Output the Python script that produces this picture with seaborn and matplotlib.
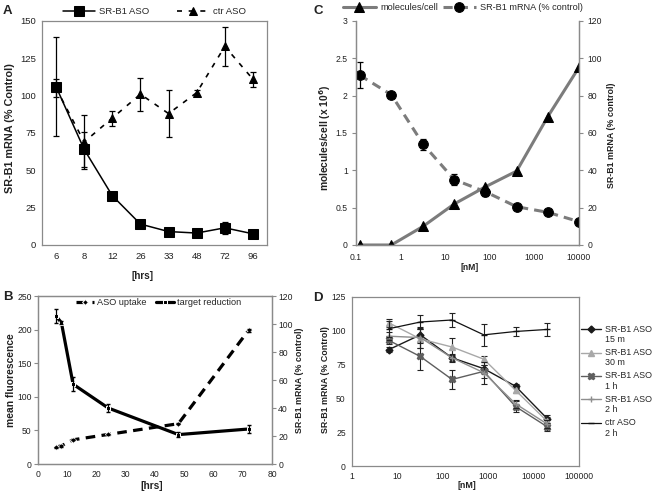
import numpy as np
import pandas as pd
import matplotlib
matplotlib.use("Agg")
import matplotlib.pyplot as plt
import seaborn as sns
from matplotlib.ticker import FixedLocator, NullFormatter, LogLocator, NullLocator
from matplotlib.legend_handler import HandlerLine2D

# ---------------- data ----------------
# Panel A
a_hours = ["6", "8", "12", "26", "33", "48", "72", "96"]
a_srb1 = [106, 64, 33, 14, 9, 8, 11.5, 7.5]
a_srb1_err = [33, 12, 2, 1, 1, 1, 4, 1]
a_ctr = [105, 69, 85, 101, 88, 102, 133, 111]
a_ctr_err = [6, 18, 5, 11, 16, 2, 13, 5]

# Panel B
b_hours = [6, 8, 12, 24, 48, 72]
b_uptake = [25, 27, 36, 44, 60, 199]
b_uptake_err = [1, 1, 1, 1, 1, 2]
b_target = [106, 101, 57, 40, 21, 25]
b_target_err = [5, 1, 5, 3, 2, 3]

# Panel C
c_nm = [0.12, 0.62, 3.2, 16, 80, 400, 2000, 10000]
c_molecules = [0, 0, 0.25, 0.55, 0.78, 0.99, 1.72, 2.38]
c_mrna = [91, 80.5, 54, 35, 28.5, 20.5, 17.5, 12.5]
c_mrna_err = [7, 1, 3, 3, 2, 1, 1, 1]
c_xticklabels = ["0.1", "1", "10", "100", "1000", "10000"]

# Panel D
d_nm = [6.4, 32, 160, 800, 4000, 20000]
d_labels = ["SR-B1 ASO\n15 m", "SR-B1 ASO\n30 m", "SR-B1 ASO\n1 h", "SR-B1 ASO\n2 h", "ctr ASO\n2 h"]
d_15m = [86, 97, 80, 72, 59, 35]
d_15m_err = [2, 5, 2, 3, 1.5, 3]
d_30m = [106, 94, 88, 79, 56, 33]
d_30m_err = [3, 7, 7, 2, 2, 3]
d_1h = [93, 81, 64, 70, 44, 29]
d_1h_err = [3, 10, 7, 5, 4, 3]
d_2h = [96, 95, 80, 69, 46, 31]
d_2h_err = [3, 8, 3, 8, 3, 3]
d_ctr = [101.5, 106.5, 108, 97, 99.5, 101]
d_ctr_err = [6, 5.5, 5.5, 8, 3, 5]
d_xticklabels = ["1", "10", "100", "1000", "10000", "100000"]

# ---------------- style ----------------
sns.set_style("white")
plt.rcParams["font.family"] = ["Liberation Sans", "DejaVu Sans"]
plt.rcParams["font.size"] = 7
SP = "#8a8a8a"
TXT = "#222222"

W, H = 657, 493
fig = plt.figure(figsize=(W / 100, H / 100), dpi=100)


def box(l, r, t, b):
    return [l / W, (H - b) / H, (r - l) / W, (b - t) / H]


def style_ax(ax, top=True, right=True, ls=6.2, pad=2):
    for s in ["left", "bottom", "top", "right"]:
        ax.spines[s].set_color(SP)
        ax.spines[s].set_linewidth(0.9)
    ax.spines["top"].set_visible(top)
    ax.spines["right"].set_visible(right)
    ax.tick_params(axis="both", direction="out", length=3, width=0.8, color=SP,
                   labelsize=ls, labelcolor=TXT, pad=pad)


def flabel(x, y, s, size, rot=0):
    fig.text(x / W, 1 - y / H, s, fontsize=size, fontweight="bold", color=TXT,
             ha="center", va="center", rotation=rot)


class FirstLineHandler(HandlerLine2D):
    def create_artists(self, legend, orig_handle, xdescent, ydescent, width, height,
                       fontsize, trans):
        arts = super().create_artists(legend, orig_handle, xdescent, ydescent, width,
                                      height, fontsize, trans)
        for a in arts:
            a.set_ydata(np.asarray(a.get_ydata()) + 0.6 * fontsize)
        return arts


# ---------------- Panel A ----------------
axA = fig.add_axes(box(42, 267, 21, 245))
style_ax(axA, ls=6.8, pad=1.5)
pos = np.arange(len(a_hours))
dfA = pd.DataFrame({"pos": pos, "srb1": a_srb1, "ctr": a_ctr})
sns.lineplot(data=dfA, x="pos", y="ctr", ax=axA, color="black", linestyle=(0, (3, 4)),
             linewidth=1.2, marker="^", markersize=5.5, markeredgecolor="black",
             label="ctr ASO", zorder=3)
sns.lineplot(data=dfA, x="pos", y="srb1", ax=axA, color="black", linewidth=1.1,
             marker="s", markersize=6.5, markeredgecolor="black", label="SR-B1 ASO", zorder=4)
axA.errorbar(pos, a_srb1, yerr=a_srb1_err, fmt="none", ecolor="black", elinewidth=0.9,
             capsize=2.5, capthick=0.9, zorder=2)
axA.errorbar(pos, a_ctr, yerr=a_ctr_err, fmt="none", ecolor="black", elinewidth=0.9,
             capsize=2.5, capthick=0.9, zorder=2)
axA.set_xlim(-0.5, len(a_hours) - 0.5)
axA.set_ylim(0, 150)
axA.set_yticks(np.arange(0, 151, 25))
axA.xaxis.set_major_locator(FixedLocator(np.arange(-0.5, len(a_hours), 1.0)))
axA.xaxis.set_major_formatter(NullFormatter())
axA.set_xticks(pos, minor=True)
axA.set_xticklabels(a_hours, minor=True)
axA.tick_params(axis="x", which="minor", length=0, labelsize=6.8, labelcolor=TXT, pad=5)
axA.set_xlabel("")
axA.set_ylabel("")
flabel(143, 276, "[hrs]", 7.2)
flabel(10, 128, "SR-B1 mRNA (% Control)", 7.8, rot=90)
h, l = axA.get_legend_handles_labels()
axA.legend(h[::-1], l[::-1], loc="lower center", bbox_to_anchor=(0.5, 1.0), ncol=2,
           frameon=False, fontsize=6.8, handlelength=3.4, columnspacing=3.0,
           borderaxespad=0.1, handletextpad=0.4)

# ---------------- Panel C ----------------
axC = fig.add_axes(box(356, 579, 21, 245))
style_ax(axC, top=False, right=True, pad=3)
axC2 = axC.twinx()
style_ax(axC2, top=False, right=True, pad=3)
dfC = pd.DataFrame({"nm": c_nm, "mol": c_molecules, "mrna": c_mrna})
GR = "#7c7c7c"
sns.lineplot(data=dfC, x="nm", y="mol", ax=axC, color=GR, linewidth=2.2, marker="^",
             markersize=7, markerfacecolor="black", markeredgecolor="black",
             label="molecules/cell", legend=False)
axC2.errorbar(c_nm, c_mrna, yerr=c_mrna_err, fmt="none", ecolor="black", elinewidth=0.9,
              capsize=2.5, capthick=0.9)
sns.lineplot(data=dfC, x="nm", y="mrna", ax=axC2, color=GR, linewidth=2.2,
             linestyle=(0, (3, 2)), marker="o", markersize=7, markerfacecolor="black",
             markeredgecolor="black", label="SR-B1 mRNA (% control)", legend=False)
axC.set_xscale("log")
axC.set_xlim(0.1, 10000)
axC.set_ylim(0, 3)
axC.set_yticks(np.arange(0, 3.01, 0.5))
axC.set_yticklabels(["0", "0.5", "1", "1.5", "2", "2.5", "3"])
axC2.set_ylim(0, 120)
axC2.set_yticks(np.arange(0, 121, 20))
axC.xaxis.set_major_locator(FixedLocator([0.1, 1, 10, 100, 1000, 10000]))
axC.set_xticklabels(c_xticklabels)
axC.xaxis.set_minor_locator(NullLocator())
axC.set_xlabel("")
axC.set_ylabel("")
axC2.set_ylabel("")
flabel(470, 267, "[nM]", 6.2)
flabel(325, 138, "molecules/cell (x 10$^{\\mathbf{6}}$)", 7.4, rot=90)
flabel(612, 135, "SR-B1 mRNA (% control)", 6.4, rot=90)
hc = axC.get_lines()[:1] + [axC2.get_lines()[-1]]
fig.legend(hc, ["molecules/cell", "SR-B1 mRNA (% control)"], loc="center",
           bbox_to_anchor=((338 + 588) / 2 / W, 1 - 8 / H), ncol=2, frameon=False,
           fontsize=6.6, handlelength=3.6, columnspacing=0.5, handletextpad=0.5)

# ---------------- Panel B ----------------
axB = fig.add_axes(box(38, 272, 296, 464))
style_ax(axB, pad=1.5)
axB2 = axB.twinx()
style_ax(axB2, pad=1.5)
dfB = pd.DataFrame({"h": b_hours, "up": b_uptake, "tr": b_target})
sns.lineplot(data=dfB, x="h", y="up", ax=axB, color="black", linewidth=2.3,
             linestyle=(0, (3, 2)), marker="D", markersize=3, label="ASO uptake", legend=False)
axB.errorbar(b_hours, b_uptake, yerr=b_uptake_err, fmt="none", ecolor="black",
             elinewidth=0.8, capsize=1.5)
sns.lineplot(data=dfB, x="h", y="tr", ax=axB2, color="black", linewidth=2.3,
             marker="s", markersize=3.5, label="target reduction", legend=False)
axB2.errorbar(b_hours, b_target, yerr=b_target_err, fmt="none", ecolor="black",
              elinewidth=0.9, capsize=1.5)
axB.set_xlim(0, 80)
axB.set_xticks(np.arange(0, 81, 10))
axB.set_ylim(0, 250)
axB.set_yticks(np.arange(0, 251, 50))
axB2.set_ylim(0, 120)
axB2.set_yticks(np.arange(0, 121, 20))
axB.set_xlabel("")
axB.set_ylabel("")
axB2.set_ylabel("")
flabel(152, 486, "[hrs]", 7.3)
flabel(11, 380, "mean fluorescence", 7.4, rot=90)
flabel(300, 380, "SR-B1 mRNA (% control)", 6.4, rot=90)
hb = [axB.get_lines()[0], axB2.get_lines()[0]]
fig.legend(hb, ["ASO uptake", "target reduction"], loc="upper left",
           bbox_to_anchor=(74 / W, 1 - 296 / H), ncol=2, frameon=False, fontsize=6.6,
           handlelength=2.0, columnspacing=1.0, handletextpad=0.3, borderaxespad=0,
           borderpad=0.2)

# ---------------- Panel D ----------------
axD = fig.add_axes(box(352, 579, 297, 466))
style_ax(axD, pad=1.5)
d_series = [d_15m, d_30m, d_1h, d_2h, d_ctr]
d_errs = [d_15m_err, d_30m_err, d_1h_err, d_2h_err, d_ctr_err]
d_colors = ["#1a1a1a", "#a8a8a8", "#5e5e5e", "#8e8e8e", "#111111"]
d_markers = ["D", "^", "X", "+", "_"]
d_msize = [3.5, 4.5, 4.5, 5, 5]
d_lw = [1.0, 1.0, 1.0, 1.0, 0.9]
dfD = pd.DataFrame({"nm": np.tile(d_nm, len(d_series)),
                    "val": np.concatenate(d_series),
                    "series": np.repeat(d_labels, len(d_nm))})
handles = []
for lab, vals, errs, c, m, ms, lw in zip(d_labels, d_series, d_errs, d_colors,
                                         d_markers, d_msize, d_lw):
    sub = dfD[dfD["series"] == lab]
    axD.errorbar(d_nm, vals, yerr=errs, fmt="none", ecolor="#222222", elinewidth=0.8,
                 capsize=2.5, capthick=0.8)
    sns.lineplot(data=sub, x="nm", y="val", ax=axD, color=c, linewidth=lw, marker=m,
                 markersize=ms, markeredgecolor=c, markeredgewidth=1.0, legend=False)
    handles.append(axD.get_lines()[-1])
axD.set_xscale("log")
axD.set_xlim(1, 100000)
axD.set_ylim(0, 125)
axD.set_yticks(np.arange(0, 126, 25))
axD.xaxis.set_major_locator(FixedLocator([1, 10, 100, 1000, 10000, 100000]))
axD.set_xticklabels(d_xticklabels)
axD.xaxis.set_minor_locator(LogLocator(base=10, subs=np.arange(2, 10), numticks=20))
axD.xaxis.set_minor_formatter(NullFormatter())
axD.tick_params(axis="x", which="minor", direction="out", length=1.8, width=0.6, color=SP)
axD.set_xlabel("")
axD.set_ylabel("")
flabel(467, 486, "[nM]", 6.4)
flabel(325, 380, "SR-B1 mRNA (% Control)", 6.4, rot=90)
fig.legend(handles, d_labels, loc="center left", bbox_to_anchor=(581 / W, 1 - 381 / H),
           frameon=False, fontsize=6.4, handlelength=2.2, handletextpad=0.5,
           labelspacing=0.45, borderaxespad=0, borderpad=0,
           handler_map={h_: FirstLineHandler() for h_ in handles})

# ---------------- panel letters ----------------
for letter, x, y in [("A", 3, 11), ("C", 313, 11), ("B", 3, 297), ("D", 313, 298)]:
    fig.text(x / W, 1 - y / H, letter, fontsize=9.5, fontweight="bold", va="center",
             ha="left", color=TXT)

fig.savefig("out.png", dpi=100)
